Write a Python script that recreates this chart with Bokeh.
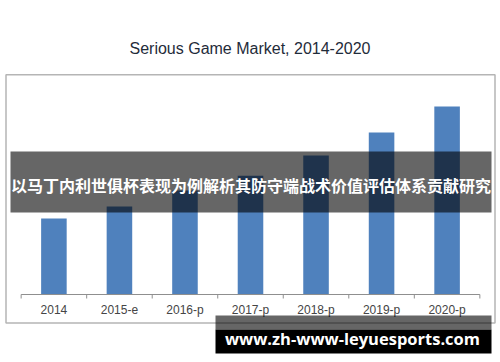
from bokeh.plotting import figure
from bokeh.models import FactorRange, Range1d, ColumnDataSource
from bokeh.core.properties import value
from bokeh.embed import file_html
from bokeh.resources import INLINE

# ---- data ----
categories = ["2014", "2015-e", "2016-p", "2017-p", "2018-p", "2019-p", "2020-p"]
market_values = [2.30, 2.67, 3.15, 3.60, 4.21, 4.91, 5.70]
title_text = "Serious Game Market, 2014-2020"
banner_text = "以马丁内利世俱杯表现为例解析其防守端战术价值评估体系贡献研究"
watermark_text = "www.zh-www-leyuesports.com"

# ---- layout helpers (canvas pixel -> data coordinates) ----
W, H = 500, 362
PX_Y = 33.0            # pixels per value unit
BASE = 294.0           # canvas y (from top) of the value axis
PAD = 0.315            # absolute factor padding (per side)
PX_X = W / (len(categories) + 2 * PAD)
X0 = PAD * PX_X        # canvas x of first category boundary


def X(cx):
    return (cx - X0) / PX_X


def Y(cy):
    return (BASE - cy) / PX_Y


p = figure(width=W, height=H, title=None,
           x_range=FactorRange(factors=categories, range_padding=PAD,
                               range_padding_units="absolute"),
           y_range=Range1d(Y(H), Y(0)),
           output_backend="svg", toolbar_location=None,
           x_axis_location=None, y_axis_location=None, min_border=0)
p.grid.visible = False
p.outline_line_color = None
p.background_fill_color = "white"
p.border_fill_color = "white"

# title
p.text(x=[X(249.5)], y=[Y(47.5)], text=[title_text], text_align="center",
       text_baseline="middle", text_font=value("Liberation Sans"),
       text_font_size="16px", text_color="#1f2c3a")

# chart box
p.quad(left=[X(5.5)], right=[X(494.5)], top=[Y(74.3)], bottom=[Y(322.5)],
       fill_color="white", line_color="#b5b5b5", line_width=1.5)

# bars
src = ColumnDataSource(dict(cat=categories, val=market_values))
p.vbar(x="cat", top="val", bottom=0, width=0.39, source=src,
       fill_color="#4f81bd", line_color=None)

# axis line and boundary ticks
n = len(categories)
p.segment(x0=[0], y0=[0], x1=[n], y1=[0], line_color="#8f8f8f", line_width=1)
p.segment(x0=list(range(n + 1)), y0=[0] * (n + 1), x1=list(range(n + 1)),
          y1=[Y(BASE + 4)] * (n + 1), line_color="#8f8f8f", line_width=1)

# tick labels
p.text(x=categories, y=[Y(309)] * n, text=categories, text_align="center",
       text_baseline="middle", text_font=value("Liberation Sans"),
       text_font_size="12px", text_color="#454545")

# banner overlay
p.quad(left=[X(10)], right=[X(491)], top=[Y(151)], bottom=[Y(212)],
       fill_color="black", fill_alpha=0.6, line_color=None)
p.text(x=[X(250.5)], y=[Y(184.5)], text=[banner_text], text_align="center",
       text_baseline="middle", text_font=value("Noto Sans CJK SC"),
       text_font_style="bold", text_font_size="16px", text_color="white")

# watermark
p.quad(left=[X(215)], right=[X(491)], top=[Y(315)], bottom=[Y(329)],
       fill_color="black", fill_alpha=0.6, line_color=None)
p.quad(left=[X(215)], right=[X(491)], top=[Y(329)], bottom=[Y(353)],
       fill_color="black", line_color=None)
p.text(x=[X(352)], y=[Y(338)], text=[watermark_text], text_align="center",
       text_baseline="middle", text_font=value("Open Sans"),
       text_font_style="bold", text_font_size="16.5px", text_color="white")

open("out.html", "w").write(file_html(p, INLINE))
